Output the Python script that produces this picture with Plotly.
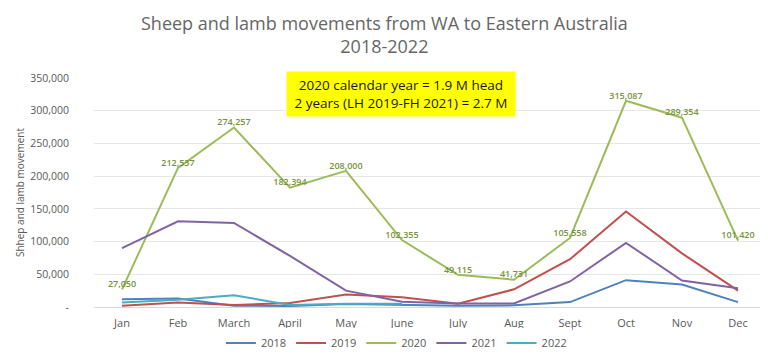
import plotly.graph_objects as go

months = ["Jan", "Feb", "March", "April", "May", "June", "July", "Aug", "Sept", "Oct", "Nov", "Dec"]
y2018 = [12000, 13000, 2000, 1500, 4500, 3000, 2000, 2500, 7500, 41000, 34500, 7500]
y2019 = [2000, 7000, 3000, 6000, 19000, 15000, 5000, 27000, 73000, 146000, 82000, 25000]
y2020 = [27050, 212537, 274257, 182394, 208000, 102355, 49115, 41731, 105558, 315087, 289354, 101420]
y2021 = [90000, 131000, 128500, 78000, 25000, 8000, 5500, 5500, 39000, 98000, 40500, 28500]
y2022 = [7000, 11000, 18000, 3000, 5000, 5000]
months2022 = months[:len(y2022)]
labels2020 = ["27,050", "212,537", "274,257", "182,394", "208,000", "102,355", "49,115", "41,731", "105,558", "315,087", "289,354", "101,420"]

ytick_vals = [0, 50000, 100000, 150000, 200000, 250000, 300000, 350000]
ytick_text = ["-", "50,000", "100,000", "150,000", "200,000", "250,000", "300,000", "350,000"]

colors = {"2018": "#4F81BD", "2019": "#C0504D", "2020": "#9BBB59", "2021": "#8064A2", "2022": "#4BACC6"}
font = "Open Sans"
gray = "#595959"

fig = go.Figure()
fig.add_trace(go.Scatter(x=months, y=y2018, name="2018", mode="lines", line=dict(color=colors["2018"], width=2)))
fig.add_trace(go.Scatter(x=months, y=y2019, name="2019", mode="lines", line=dict(color=colors["2019"], width=2)))
fig.add_trace(go.Scatter(x=months, y=y2020, name="2020", mode="lines+text", text=labels2020,
                         textposition="top center",
                         textfont=dict(family=font, size=9, color="#76923C", weight=600),
                         line=dict(color=colors["2020"], width=2)))
fig.add_trace(go.Scatter(x=months, y=y2021, name="2021", mode="lines", line=dict(color=colors["2021"], width=2)))
fig.add_trace(go.Scatter(x=months2022, y=y2022, name="2022", mode="lines", line=dict(color=colors["2022"], width=2)))

fig.update_layout(
    width=768, height=359,
    margin=dict(l=86, r=10, t=70, b=53),
    paper_bgcolor="white", plot_bgcolor="white",
    font=dict(family=font, color=gray, size=11),
    showlegend=True,
    legend=dict(orientation="h", x=0.45, xanchor="center", y=-0.157, yanchor="middle",
                font=dict(family=font, size=11, color=gray), itemwidth=30, tracegroupgap=0),
    xaxis=dict(type="category", categoryorder="array", categoryarray=months,
               range=[-0.5, 11.5], showgrid=False, showline=True, linecolor="#d9d9d9",
               ticks="", ticklabelstandoff=6, tickfont=dict(size=11, color=gray)),
    yaxis=dict(range=[0, 350000], tickvals=ytick_vals, ticktext=ytick_text,
               showgrid=True, gridcolor="#e6e6e6", zeroline=False, ticks="",
               ticklabelstandoff=24,
               tickfont=dict(size=10.5, color=gray),
               title=dict(text="Shhep and lamb movement", font=dict(size=10, color=gray), standoff=3)),
    annotations=[
        dict(text="Sheep and lamb movements from WA to Eastern Australia<br>2018-2022",
             xref="paper", yref="paper", x=0.433, y=1.19, xanchor="center", yanchor="middle",
             showarrow=False, align="center", font=dict(family=font, size=18, color="#666666")),
        dict(text="&nbsp;2020 calendar year = 1.9 M head&nbsp;<br>&nbsp;2 years (LH 2019-FH 2021) = 2.7 M&nbsp;",
             xref="paper", yref="paper", x=0.457, y=0.93, xanchor="center", yanchor="middle",
             showarrow=False, bgcolor="#FFFF00", borderpad=4,
             font=dict(family=font, size=13.5, color="#1a1a1a"), align="center")],
)

fig.write_html("out.html")
